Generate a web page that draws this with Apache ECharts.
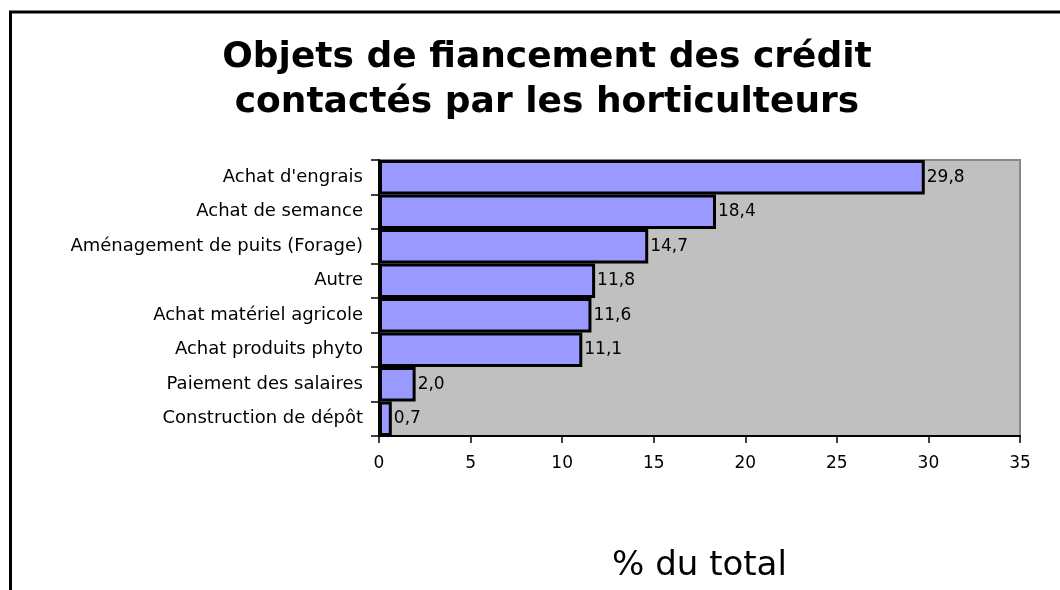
<!DOCTYPE html>
<html>
<head>
<meta charset="utf-8">
<script src="https://cdn.jsdelivr.net/npm/echarts@6/dist/echarts.min.js"></script>
<style>
  html, body { margin: 0; padding: 0; background: #fff; }
  #chart { width: 1060px; height: 590px; }
</style>
</head>
<body>
<div id="chart"></div>
<script>
// categories from top to bottom
var categories = [
  'Achat d\'engrais',
  'Achat de semance',
  'Aménagement de puits (Forage)',
  'Autre',
  'Achat matériel agricole',
  'Achat produits phyto',
  'Paiement des salaires',
  'Construction de dépôt'
]
var values = [29.8, 18.4, 14.7, 11.8, 11.6, 11.1, 2.0, 0.7]
var xTicks = [0, 5, 10, 15, 20, 25, 30, 35]

var font = 'DejaVu Sans'

var option = {
  animation: false,
  backgroundColor: '#fff',
  title: {
    text: 'Objets de fiancement des crédit\ncontactés par les horticulteurs',
    left: 542,
    top: 30,
    textAlign: 'center',
    textStyle: {
      fontFamily: font,
      fontWeight: 'bold',
      fontSize: 36,
      lineHeight: 45,
      color: '#000'
    }
  },
  graphic: [
    {
      // cadre extérieur
      type: 'rect',
      shape: { x: 10.5, y: 12, width: 1200, height: 800 },
      style: { fill: 'none', stroke: '#000', lineWidth: 3 },
      z: 100
    }
  ],
  grid: {
    left: 379,
    right: 40,
    top: 160,
    bottom: 154,
    show: true,
    backgroundColor: '#C0C0C0',
    borderColor: '#888',
    borderWidth: 2
  },
  xAxis: {
    type: 'value',
    min: 0,
    max: 35,
    interval: 5,
    name: '% du total',
    nameLocation: 'middle',
    nameGap: 113,
    nameTextStyle: {
      fontFamily: font,
      fontSize: 34,
      color: '#000'
    },
    axisLine: { show: true, lineStyle: { color: '#000', width: 2 } },
    axisTick: { show: true, length: 7, lineStyle: { color: '#000', width: 1.5 } },
    axisLabel: {
      margin: 19,
      fontFamily: font,
      fontSize: 17,
      color: '#000',
      formatter: function(v) {
        return xTicks.indexOf(v) >= 0 ? String(v) : ''
      }
    },
    splitLine: { show: false }
  },
  yAxis: {
    type: 'category',
    inverse: true,
    data: categories,
    axisLine: { show: true, lineStyle: { color: '#000', width: 2 } },
    axisTick: { show: true, length: 8, lineStyle: { color: '#000', width: 1.5 } },
    axisLabel: {
      margin: 16,
      fontFamily: font,
      fontSize: 18,
      color: '#000'
    },
    splitLine: { show: false }
  },
  series: [
    {
      type: 'bar',
      data: values,
      barCategoryGap: '0%',
      itemStyle: {
        color: '#9999FF',
        borderColor: '#000',
        borderWidth: 3
      },
      label: {
        show: true,
        position: 'right',
        distance: 2,
        fontFamily: font,
        fontSize: 17,
        color: '#000',
        formatter: function(p) {
          return p.value.toFixed(1).replace('.', ',')
        }
      }
    }
  ]
}

var chart = echarts.init(document.getElementById('chart'))
chart.setOption(option, true)
window.addEventListener('resize', () => {
  chart.resize()
})
</script>
</body>
</html>
